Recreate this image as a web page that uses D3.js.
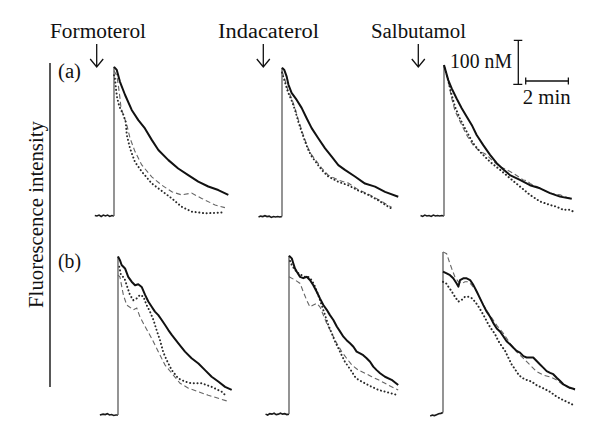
<!DOCTYPE html>
<html>
<head>
<meta charset="utf-8">
<script src="https://cdn.jsdelivr.net/npm/d3@7"></script>
<style>
  html, body { margin: 0; padding: 0; background: #fff; }
  svg { display: block; }
</style>
</head>
<body>
<svg id="chart" width="600" height="440"></svg>
<script>
// ---------- DATA (time in min relative to stimulus, [Ca2+] in nM) ----------
const drugs = ["Formoterol", "Indacaterol", "Salbutamol"];
const rowLabels = ["(a)", "(b)"];
const yAxisLabel = "Fluorescence intensity";
const scaleConc = 100;      // nM
const scaleConcLabel = "100 nM";
const scaleTime = 2;        // min
const scaleTimeLabel = "2 min";

// Row (a)
const aFormBase = [[-0.9,1],[-0.8,0],[-0.7,2],[-0.6,-1],[-0.5,2],[-0.4,0],[-0.3,2],[-0.2,-1],[-0.1,1],[0,0]];
const aFormSolid = [[0,339],[0.13,332],[0.28,305],[0.52,275],[0.83,241],[1.14,218],[1.45,199],[1.77,173],[2.08,150],[2.55,127],[3.01,108],[3.48,93],[3.95,78],[4.42,67],[4.89,59],[5.36,48]];
const aFormDashed = [[0,330],[0.13,319],[0.2,298],[0.28,268],[0.33,245],[0.44,230],[0.6,207],[0.75,177],[0.98,147],[1.3,116],[1.77,89],[2.24,70],[2.71,55],[3.17,48],[3.64,52],[4.11,40],[4.74,25],[5.2,19]];
const aFormDotted = [[0,320],[0.05,311],[0.09,290],[0.15,268],[0.25,249],[0.44,230],[0.55,214],[0.6,184],[0.75,154],[0.98,123],[1.3,101],[1.77,74],[2.24,57],[2.71,40],[3.17,21],[3.64,10],[4.27,6],[5.05,8]];

const aIndaBase = [[-1.1,0],[-1.0,2],[-0.9,1],[-0.8,3],[-0.7,1],[-0.6,2],[-0.5,-1],[-0.4,1],[-0.3,0],[-0.2,1],[-0.1,0],[0,1]];
const aIndaSolid = [[0,339],[0.11,334],[0.22,319],[0.3,301],[0.45,282],[0.69,266],[0.92,248],[1.15,225],[1.39,202],[1.7,179],[2.02,156],[2.33,137],[2.64,118],[2.95,107],[3.42,92],[3.89,76],[4.36,69],[4.83,57],[5.45,46]];
const aIndaDashed = [[0,332],[0.15,310],[0.27,289],[0.45,270],[0.61,247],[0.77,220],[0.92,198],[1.08,175],[1.23,156],[1.39,141],[1.63,126],[1.86,111],[2.17,95],[2.64,84],[3.11,77],[3.58,62],[4.05,52],[4.51,40],[5.14,22]];
const aIndaDotted = [[0,328],[0.15,305],[0.27,285],[0.45,265],[0.61,243],[0.77,216],[0.92,194],[1.08,172],[1.23,153],[1.39,138],[1.63,122],[1.86,107],[2.17,92],[2.64,80],[3.11,72],[3.58,60],[4.05,50],[4.51,38],[5.1,20]];

const aSalbBase = [[-1.1,1],[-1.0,-1],[-0.9,2],[-0.8,0],[-0.7,1],[-0.6,-1],[-0.5,2],[-0.4,0],[-0.3,1],[-0.2,0],[-0.1,1],[0,0]];
const aSalbSolid = [[0,343],[0.09,328],[0.2,309],[0.36,290],[0.59,267],[0.83,245],[1.06,226],[1.3,207],[1.53,184],[1.84,161],[2.16,139],[2.47,120],[2.8,105],[3.09,93],[3.56,82],[4.03,70],[4.5,63],[4.97,52],[5.44,44],[5.99,39]];
const aSalbDashed = [[0,340],[0.2,305],[0.36,268],[0.52,238],[0.75,215],[1.06,184],[1.37,161],[1.69,146],[1.85,143],[2.0,139],[2.31,124],[2.63,112],[2.94,105],[3.25,97],[3.72,82],[3.9,80],[4.03,74],[4.35,67],[4.66,59],[4.97,52],[5.44,48],[5.91,40]];
const aSalbDotted = [[0.05,335],[0.13,320],[0.25,298],[0.36,275],[0.52,248],[0.75,221],[1.06,192],[1.37,165],[1.69,146],[2.16,123],[2.63,105],[3.09,86],[3.56,67],[4.03,48],[4.5,33],[4.97,25],[5.28,21],[5.59,14],[5.91,14],[6.06,10]];

// Row (b)
const bFormBase = [[-0.85,0],[-0.7,2],[-0.6,1],[-0.5,3],[-0.4,0],[-0.3,1],[-0.2,-1],[-0.1,0],[0,0]];
const bFormSolid = [[0,360],[0.09,352],[0.17,341],[0.33,333],[0.48,314],[0.64,303],[0.8,295],[0.95,297],[1.11,291],[1.27,273],[1.42,258],[1.58,246],[1.73,235],[1.89,227],[2.05,216],[2.2,205],[2.36,193],[2.52,182],[2.83,163],[3.14,144],[3.45,129],[3.77,117],[4.08,102],[4.39,87],[4.7,76],[5.02,64],[5.33,57]];
const bFormDashed = [[0,318],[0.09,314],[0.25,273],[0.41,250],[0.72,239],[0.88,243],[1.03,223],[1.27,201],[1.58,174],[1.89,144],[2.2,114],[2.52,95],[2.91,72],[3.3,61],[3.76,53],[4.23,45],[4.7,38],[5.1,32]];
const bFormDotted = [[0.06,337],[0.14,318],[0.3,311],[0.41,295],[0.56,273],[0.72,261],[0.88,265],[1.03,273],[1.19,269],[1.34,250],[1.5,235],[1.66,216],[1.81,193],[1.97,170],[2.12,143],[2.28,125],[2.52,102],[2.83,83],[3.14,76],[3.45,72],[3.92,72],[4.39,64],[4.86,53],[5.1,42]];

const bIndaBase = [[-1.1,2],[-1.0,0],[-0.9,3],[-0.8,2],[-0.7,4],[-0.6,1],[-0.5,2],[-0.4,4],[-0.3,2],[-0.2,3],[-0.1,1],[0,2]];
const bIndaSolid = [[0,362],[0.13,356],[0.2,345],[0.28,333],[0.36,326],[0.52,314],[0.67,311],[0.83,314],[0.98,307],[1.14,295],[1.3,280],[1.45,265],[1.61,250],[1.77,239],[1.92,227],[2.08,216],[2.24,201],[2.39,190],[2.55,178],[2.7,170],[2.86,163],[3.02,155],[3.17,144],[3.33,140],[3.48,136],[3.64,129],[3.8,121],[3.95,110],[4.11,102],[4.27,95],[4.5,87],[4.81,80],[5.12,68]];
const bIndaDashed = [[0,314],[0.28,307],[0.52,299],[0.67,280],[0.83,261],[0.98,246],[1.14,250],[1.3,254],[1.45,246],[1.61,227],[1.77,208],[2.0,186],[2.24,163],[2.47,144],[2.7,129],[2.94,114],[3.25,102],[3.56,95],[3.88,87],[4.19,80],[4.5,72],[4.81,64],[5.12,57]];
const bIndaDotted = [[0.05,350],[0.13,341],[0.28,330],[0.44,322],[0.59,318],[0.75,314],[0.9,314],[1.06,307],[1.22,292],[1.37,273],[1.53,250],[1.69,227],[1.84,205],[2.0,186],[2.16,167],[2.31,152],[2.47,136],[2.62,121],[2.78,110],[2.94,99],[3.09,87],[3.25,80],[3.56,72],[3.88,64],[4.19,57],[4.5,53],[4.81,49],[5.12,45]];

const bSalbBase = [[-0.6,0],[-0.5,2],[-0.4,1],[-0.3,3],[-0.2,5],[-0.1,6],[0,8]];
const bSalbSolid = [[0,328],[0.17,324],[0.33,320],[0.48,313],[0.64,301],[0.72,294],[0.8,309],[0.95,313],[1.11,313],[1.27,309],[1.42,298],[1.58,283],[1.73,268],[1.89,252],[2.05,237],[2.2,226],[2.36,211],[2.52,199],[2.67,192],[2.83,181],[2.98,170],[3.14,163],[3.3,155],[3.45,148],[3.61,144],[3.77,136],[3.92,133],[4.08,133],[4.23,133],[4.39,125],[4.55,117],[4.7,110],[4.86,102],[5.02,98],[5.17,95],[5.33,87],[5.48,80],[5.64,72],[5.8,68],[5.95,64],[6.19,61]];
const bSalbDashed = [[0,373],[0.17,369],[0.3,350],[0.41,335],[0.56,316],[0.72,305],[0.88,301],[1.03,305],[1.19,305],[1.34,298],[1.58,283],[1.89,252],[2.2,229],[2.52,206],[2.83,188],[3.14,165],[3.45,146],[3.77,131],[4.08,116],[4.39,101],[4.7,93],[5.02,89],[5.33,82],[5.64,70],[5.95,63],[6.19,59]];
const bSalbDotted = [[0,305],[0.14,302],[0.25,294],[0.41,283],[0.56,271],[0.72,260],[0.88,264],[1.03,271],[1.19,271],[1.34,268],[1.5,260],[1.66,249],[1.81,237],[1.97,223],[2.13,208],[2.28,197],[2.44,186],[2.59,171],[2.75,159],[2.91,148],[3.06,133],[3.22,117],[3.38,106],[3.53,95],[3.69,87],[3.92,82],[4.16,78],[4.39,70],[4.7,63],[5.02,55],[5.33,44],[5.64,36],[5.95,29],[6.11,25]];

// ---------- LAYOUT ----------
const FONT = "'Liberation Serif', 'Times New Roman', Times, serif";
const pxPerMin = 21.33;
const pxPerNM = 0.44;
const panels = [
  {row:0, col:0, x0:114, y0:216, base:aFormBase, solid:aFormSolid, dashed:aFormDashed, dotted:aFormDotted},
  {row:0, col:1, x0:282, y0:217, base:aIndaBase, solid:aIndaSolid, dashed:aIndaDashed, dotted:aIndaDotted},
  {row:0, col:2, x0:444, y0:216, base:aSalbBase, solid:aSalbSolid, dashed:aSalbDashed, dotted:aSalbDotted},
  {row:1, col:0, x0:118, y0:415, base:bFormBase, solid:bFormSolid, dashed:bFormDashed, dotted:bFormDotted},
  {row:1, col:1, x0:289, y0:415, base:bIndaBase, solid:bIndaSolid, dashed:bIndaDashed, dotted:bIndaDotted},
  {row:1, col:2, x0:443, y0:416, base:bSalbBase, solid:bSalbSolid, dashed:bSalbDashed, dotted:bSalbDotted}
];

const svg = d3.select("#chart");

panels.forEach(p => {
  const x = d3.scaleLinear().domain([0, 1]).range([p.x0, p.x0 + pxPerMin]);
  const y = d3.scaleLinear().domain([0, 100]).range([p.y0, p.y0 - 100 * pxPerNM]);
  const line = d3.line().x(d => x(d[0])).y(d => y(d[1]));
  const g = svg.append("g");

  g.append("path").attr("d", line(p.base))
    .attr("fill", "none").attr("stroke", "#1a1a1a").attr("stroke-width", 1.6);

  const last = p.base[p.base.length - 1];
  const peak = d3.max([p.solid[0][1], p.dashed[0][1], p.dotted[0][1]]);
  g.append("path").attr("d", line([last, [0, peak]]))
    .attr("fill", "none").attr("stroke", "#666").attr("stroke-width", 1.4);

  g.append("path").attr("d", line(p.dashed))
    .attr("fill", "none").attr("stroke", "#666").attr("stroke-width", 1.1)
    .attr("stroke-dasharray", "5,3");

  g.append("path").attr("d", line(p.dotted))
    .attr("fill", "none").attr("stroke", "#2a2a2a").attr("stroke-width", 2)
    .attr("stroke-linecap", "round").attr("stroke-dasharray", "0.1,3.6");

  g.append("path").attr("d", line(p.solid))
    .attr("fill", "none").attr("stroke", "#111").attr("stroke-width", 2)
    .attr("stroke-linejoin", "round");
});

function addText(x, y, str, w, extra) {
  const t = svg.append("text").attr("x", x).attr("y", y)
    .attr("font-family", FONT).attr("font-size", 20).attr("fill", "#111").text(str);
  if (w) t.attr("textLength", w).attr("lengthAdjust", "spacingAndGlyphs");
  return t;
}

// Drug labels and arrows
const labelX = [50, 218, 371];
const labelW = [96, 101, 95];
const arrowX = [96.7, 263.3, 418.3];
drugs.forEach((d, i) => {
  addText(labelX[i], 37.7, d, labelW[i]);
  const ax = arrowX[i];
  svg.append("path")
    .attr("d", `M${ax},44 L${ax},67 M${ax - 6.5},59 L${ax},67 L${ax + 6.5},59`)
    .attr("fill", "none").attr("stroke", "#111").attr("stroke-width", 1.3);
});

// Row labels
const rowLabelY = [78, 268];
rowLabels.forEach((r, i) => addText(58, rowLabelY[i], r, 23));

// Y axis line and label
svg.append("line").attr("x1", 50).attr("x2", 50).attr("y1", 63).attr("y2", 387)
  .attr("stroke", "#111").attr("stroke-width", 1.4);
svg.append("text").attr("transform", "translate(43,214.5) rotate(-90)")
  .attr("text-anchor", "middle").attr("font-family", FONT).attr("font-size", 20).attr("fill", "#111")
  .attr("textLength", 187).attr("lengthAdjust", "spacingAndGlyphs")
  .text(yAxisLabel);

// Scale bars
const sbY = d3.scaleLinear().domain([0, 100]).range([84.3, 84.3 - 100 * pxPerNM]);
const sbX = d3.scaleLinear().domain([0, 1]).range([525.7, 525.7 + pxPerMin]);
const vbx = 518.3;
svg.append("path")
  .attr("d", `M${vbx},${sbY(0)} L${vbx},${sbY(scaleConc)} M${vbx - 4.5},${sbY(scaleConc)} L${vbx + 4},${sbY(scaleConc)} M${vbx - 5},${sbY(0)} L${vbx + 4},${sbY(0)}`)
  .attr("fill", "none").attr("stroke", "#111").attr("stroke-width", 1.3);
const hy = 81;
svg.append("path")
  .attr("d", `M${sbX(0)},${hy} L${sbX(scaleTime)},${hy} M${sbX(0)},${hy - 3.5} L${sbX(0)},${hy + 3.5} M${sbX(scaleTime)},${hy - 3.5} L${sbX(scaleTime)},${hy + 3.5}`)
  .attr("fill", "none").attr("stroke", "#111").attr("stroke-width", 1.3);
addText(450, 68.3, scaleConcLabel, 62);
addText(522.7, 104.3, scaleTimeLabel, 48);
</script>
</body>
</html>
